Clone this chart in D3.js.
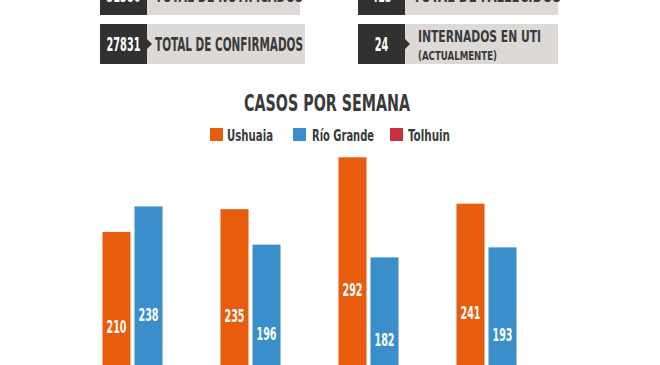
<!DOCTYPE html>
<html><head><meta charset="utf-8">
<script src="https://cdn.jsdelivr.net/npm/d3@7"></script>
<style>
html,body{margin:0;padding:0;background:#fff;overflow:hidden}
text{font-family:"Liberation Sans Narrow","DejaVu Sans Condensed","Roboto",sans-serif;font-weight:bold}
</style></head><body>
<svg id="c" width="660" height="365"></svg>
<script>
const weeks = ["Semana 1","Semana 2","Semana 3","Semana 4"];
const seriesNames = ["Ushuaia","Río Grande","Tolhuin"];
const ushuaia = [210,235,292,241];
const rioGrande = [238,196,182,193];
const tolhuin = [30,25,35,28];
const colors = ["#E85C0D","#3A8FCB","#C8323F"];
const statNumbers = ["31386","27831","413","24"];
const statLabels = ["TOTAL DE NOTIFICADOS","TOTAL DE CONFIRMADOS","TOTAL DE FALLECIDOS","INTERNADOS EN UTI"];
const statSub = ["","","","(ACTUALMENTE)"];

const svg = d3.select("#c");

// stat boxes
const boxes = [
  {x:100, y:-25, w:200, i:0},
  {x:100, y:24, w:205, i:1},
  {x:358, y:-25, w:200, i:2},
  {x:358, y:24, w:200, i:3}
];
boxes.forEach(b=>{
  const g = svg.append("g").attr("transform",`translate(${b.x},${b.y})`);
  const h = 40;
  g.append("rect").attr("x",0).attr("y",0).attr("width",b.w).attr("height",h).attr("fill","#DCD9D6");
  g.append("rect").attr("x",0).attr("y",0).attr("width",47).attr("height",h).attr("fill","#313131");
  g.append("path").attr("d",`M47,${h/2-5}L52,${h/2}L47,${h/2+5}Z`).attr("fill","#313131");
  const num = statNumbers[b.i];
  g.append("text").attr("x",23.5).attr("y",h/2+7).attr("text-anchor","middle")
    .attr("fill","#fff").attr("font-size",19)
    .attr("textLength",num.length*6.8).attr("lengthAdjust","spacingAndGlyphs").text(num);
  if(statSub[b.i]){
    g.append("text").attr("x",60).attr("y",18).attr("fill","#3a3a3a").attr("font-size",16)
      .attr("textLength",123).attr("lengthAdjust","spacingAndGlyphs").text(statLabels[b.i]);
    g.append("text").attr("x",60).attr("y",36).attr("fill","#3a3a3a").attr("font-size",12)
      .attr("textLength",79).attr("lengthAdjust","spacingAndGlyphs").text(statSub[b.i]);
  } else {
    g.append("text").attr("x",55).attr("y",h/2+7).attr("fill","#3a3a3a").attr("font-size",19)
      .attr("textLength",148).attr("lengthAdjust","spacingAndGlyphs").text(statLabels[b.i]);
  }
});

// title
svg.append("text").attr("x",327).attr("y",111).attr("text-anchor","middle")
  .attr("fill","#3a3a3a").attr("font-size",23)
  .attr("textLength",166).attr("lengthAdjust","spacingAndGlyphs").text("CASOS POR SEMANA");

// legend
const legendPos = [{sx:210,tx:227,tw:46},{sx:293,tx:312,tw:62},{sx:390,tx:408,tw:42}];
seriesNames.forEach((s,i)=>{
  const p = legendPos[i];
  svg.append("rect").attr("x",p.sx).attr("y",128).attr("width",13).attr("height",13).attr("fill",colors[i]);
  svg.append("text").attr("x",p.tx).attr("y",141).attr("fill","#3a3a3a").attr("font-size",16)
    .attr("textLength",p.tw).attr("lengthAdjust","spacingAndGlyphs").text(s);
});

// bars
const data = weeks.map((w,i)=>({week:w, values:[ushuaia[i],rioGrande[i],tolhuin[i]]}));
const x0 = d3.scaleBand().domain(weeks).range([89.5,561.5]).paddingInner(0.22).paddingOuter(0.11);
const x1 = d3.scaleBand().domain(seriesNames).range([0,x0.bandwidth()]).paddingInner(0.125).paddingOuter(0);
const y = d3.scaleLinear().domain([0,300]).range([423,150]);

const groups = svg.append("g").selectAll("g").data(data).join("g")
  .attr("transform",d=>`translate(${x0(d.week)},0)`);
groups.selectAll("rect").data(d=>d.values.map((v,i)=>({s:seriesNames[i],v,i}))).join("rect")
  .attr("x",d=>x1(d.s)).attr("width",x1.bandwidth())
  .attr("y",d=>y(d.v)).attr("height",d=>y(0)-y(d.v))
  .attr("fill",d=>colors[d.i]);
groups.selectAll("text").data(d=>d.values.map((v,i)=>({s:seriesNames[i],v,i}))).join("text")
  .attr("x",d=>x1(d.s)+x1.bandwidth()/2)
  .attr("y",d=>(y(d.v)+y(0))/2+6)
  .attr("text-anchor","middle").attr("fill","#fff").attr("font-size",18)
  .attr("textLength",20).attr("lengthAdjust","spacingAndGlyphs")
  .text(d=>d.v);
</script>
</body></html>
